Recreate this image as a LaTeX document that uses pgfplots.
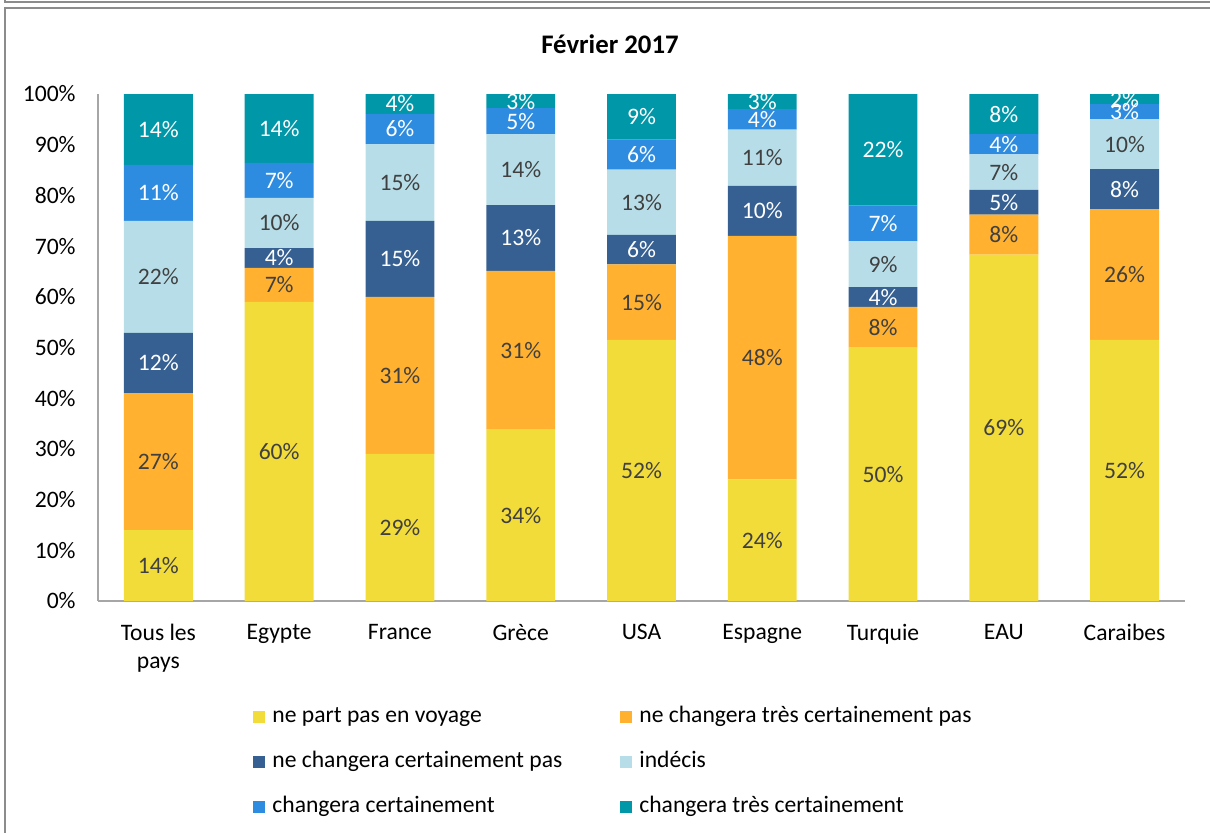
\documentclass[border=0pt]{standalone}
\usepackage{pgfplots}
\pgfplotsset{compat=1.18}
\usepackage{pgfplotstable}
\usepackage{fontspec}
\setmainfont{Carlito}

\definecolor{cyel}{HTML}{F2DC3A}
\definecolor{corg}{HTML}{FFB12F}
\definecolor{cdbl}{HTML}{366092}
\definecolor{clbl}{HTML}{B7DEE8}
\definecolor{cblu}{HTML}{2E8CE0}
\definecolor{ctea}{HTML}{0097A8}
\definecolor{ctxt}{HTML}{404040}
\definecolor{axgrey}{HTML}{A6A6A6}
\definecolor{frgrey}{HTML}{8C8C8C}

% heights, labels as printed
\pgfplotstableread{
x h1 l1 h2 l2 h3 l3 h4 l4 h5 l5 h6 l6
0 14.0 14 27.0 27 11.9 12 22.1 22 11.0 11 14.0 14
1 59.0 60 6.7 7 3.9 4 9.9 10 6.9 7 13.6 14
2 29.0 29 31.0 31 15.0 15 15.1 15 6.0 6 3.9 4
3 33.9 34 31.2 31 13.0 13 14.0 14 5.1 5 2.8 3
4 51.5 52 14.9 15 5.8 6 12.9 13 5.9 6 9.0 9
5 24.0 24 48.0 48 9.9 10 11.1 11 4.0 4 3.0 3
6 50.0 50 8.0 8 3.9 4 9.1 9 7.0 7 22.0 22
7 68.3 69 7.9 8 4.9 5 7.0 7 4.0 4 7.9 8
8 51.5 52 25.8 26 7.9 8 9.8 10 3.0 3 2.0 2
}\datatable

\newcommand{\lfont}{\fontsize{11.8}{14}\selectfont}

\begin{document}
\begin{tikzpicture}
\useasboundingbox (0,0) rectangle (605pt,-416pt);
% frame
\draw[frgrey, line width=1.2pt] (2.5pt,5pt) -- (2.5pt,-1pt) -- (620pt,-1pt);
\draw[frgrey, line width=1pt] (2.5pt,-430pt) -- (2.5pt,-4.2pt) -- (620pt,-4.2pt);
\node[font=\fontsize{13.4}{16}\selectfont\bfseries, anchor=base] at (305pt,-26.6pt) {Février 2017};
\begin{axis}[
  at={(49pt,-300.5pt)}, anchor=south west,
  scale only axis, width=543.5pt, height=253.5pt,
  ybar stacked, bar width=0.57,
  xmin=-0.5, xmax=8.5, ymin=0, ymax=100,
  ytick={0,10,...,100},
  yticklabel={\pgfmathprintnumber{\tick}\%},
  xtick={0,...,8},
  xticklabels={{Tous les\\pays},Egypte,France,Grèce,USA,Espagne,Turquie,EAU,Caraibes},
  axis x line*=bottom, axis y line*=left,
  axis line style={draw=axgrey, line width=0.8pt},
  major tick length=0pt,
  tick label style={font=\lfont, text=black},
  /pgf/number format/assume math mode=true,
  yticklabel style={inner sep=0pt, xshift=-11pt},
  xticklabel style={align=center, inner sep=0pt, yshift=-11.5pt},
  point meta=explicit symbolic,
  nodes near coords={\pgfplotspointmeta\%},
  % stacked labels sit in the middle of their segment
  every node near coord/.append style={anchor=center, font=\lfont},
  legend columns=2,
  legend cell align=left,
  legend image code/.code={\fill[#1] (0pt,-3pt) rectangle (6pt,3pt);},
  legend style={at={(0.1426,-0.208)}, anchor=north west, draw=none, fill=none,
    inner sep=0pt, font=\lfont,
    nodes={inner sep=0pt, text height=8pt, text depth=2.5pt},
    /tikz/every odd column/.append style={column sep=3.5pt},
    /tikz/every even column/.append style={column sep=29pt},
    row sep=12pt},
]
\addplot[fill=cyel, draw=none, every node near coord/.append style={text=ctxt}]
  table[x=x, y=h1, meta=l1] {\datatable};
\addplot[fill=corg, draw=none, every node near coord/.append style={text=ctxt}]
  table[x=x, y=h2, meta=l2] {\datatable};
\addplot[fill=cdbl, draw=none, every node near coord/.append style={text=white}]
  table[x=x, y=h3, meta=l3] {\datatable};
\addplot[fill=clbl, draw=none, every node near coord/.append style={text=ctxt}]
  table[x=x, y=h4, meta=l4] {\datatable};
\addplot[fill=cblu, draw=none, every node near coord/.append style={text=white}]
  table[x=x, y=h5, meta=l5] {\datatable};
\addplot[fill=ctea, draw=none, every node near coord/.append style={text=white}]
  table[x=x, y=h6, meta=l6] {\datatable};
\legend{ne part pas en voyage, ne changera très certainement pas,
  ne changera certainement pas, indécis,
  changera certainement, changera très certainement}
\end{axis}
\end{tikzpicture}
\end{document}
